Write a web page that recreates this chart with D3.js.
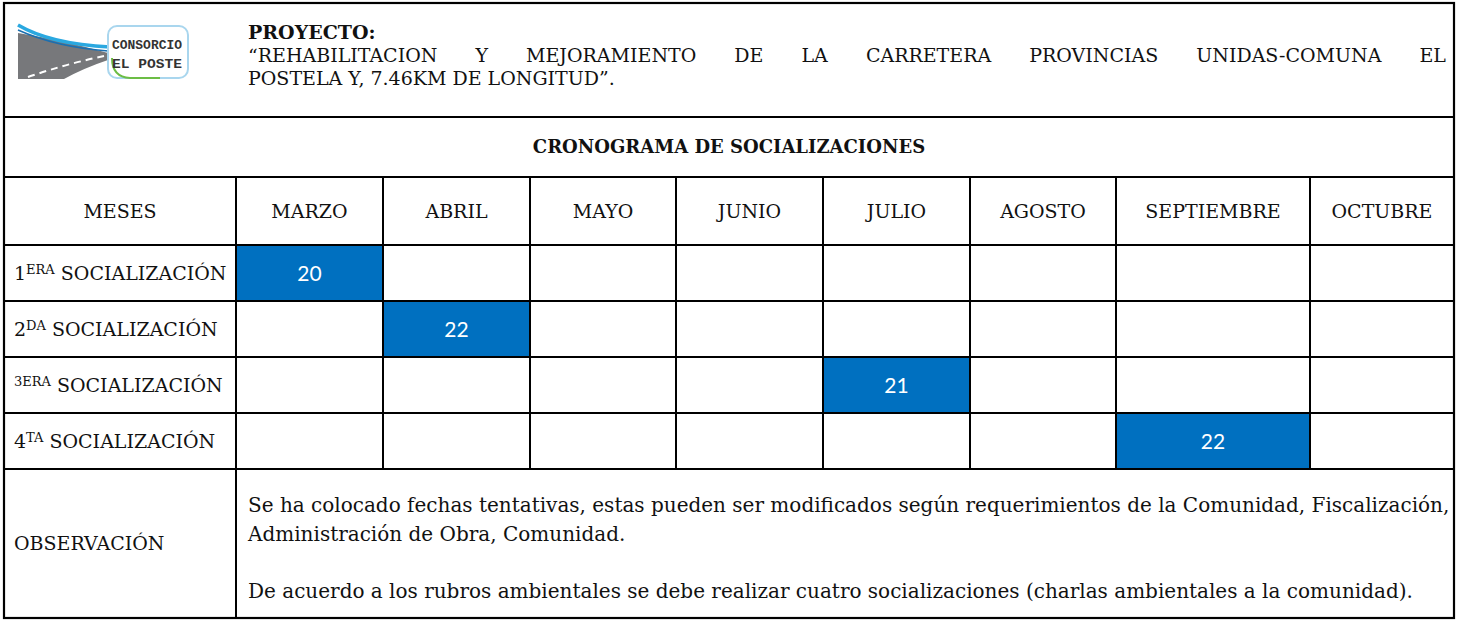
<!DOCTYPE html>
<html>
<head>
<meta charset="utf-8">
<script src="https://cdn.jsdelivr.net/npm/d3@7"></script>
<style>
  body { margin: 0; background: #fff; }
  svg text { font-family: "DejaVu Serif", serif; fill: #111; }
</style>
</head>
<body>
<div id="chart"></div>
<script>
// ---- data ----
const months = ["MARZO", "ABRIL", "MAYO", "JUNIO", "JULIO", "AGOSTO", "SEPTIEMBRE", "OCTUBRE"];
const rowNumbers = ["1", "2", "3", "4"];
const rowSuffixes = ["ERA", "DA", "ERA", "TA"];
const rowNumberSmall = [false, false, true, false];
const socialMonths = ["MARZO", "ABRIL", "JULIO", "SEPTIEMBRE"];
const socialDays = [20, 22, 21, 22];

const projectLabel = "PROYECTO:";
const projectLines = [
  "“REHABILITACION Y MEJORAMIENTO DE LA CARRETERA PROVINCIAS UNIDAS-COMUNA EL",
  "POSTELA Y, 7.46KM DE LONGITUD”."
];
const title = "CRONOGRAMA DE SOCIALIZACIONES";
const firstColLabel = "MESES";
const obsLabel = "OBSERVACIÓN";
const obsLines = [
  "Se ha colocado fechas tentativas, estas pueden ser modificados según requerimientos de la Comunidad, Fiscalización,",
  "Administración de Obra, Comunidad.",
  "",
  "De acuerdo a los rubros ambientales se debe realizar cuatro socializaciones (charlas ambientales a la comunidad)."
];

// ---- layout ----
const width = 1462;
const height = 621;
const left = 4, right = 1454;
const firstColRight = 236;
const monthWidths = [147, 147, 146, 147, 147, 146, 194, 144];
const yHeader = 3, yTitle = 117, yMonths = 177, yRows = 245, yObs = 469, yBottom = 618;
const fontSize = 19;
const blue = "#0070c0";

const svg = d3.select("#chart").append("svg")
  .attr("width", width)
  .attr("height", height)
  .attr("viewBox", [0, 0, width, height]);

// month columns through an ordinal scale
const starts = d3.cumsum([0, ...monthWidths]).map((d) => d + firstColRight);
const x = d3.scaleOrdinal().domain(months).range(starts.slice(0, -1));
const w = d3.scaleOrdinal().domain(months).range(monthWidths);

const y = d3.scaleBand().domain(rowNumbers).range([yRows, yObs]);

// ---- blue cells ----
const cells = socialMonths.map((m, i) => ({ month: m, row: rowNumbers[i], day: socialDays[i] }));

svg.append("g")
  .selectAll("rect")
  .data(cells)
  .join("rect")
  .attr("x", (d) => x(d.month))
  .attr("y", (d) => y(d.row))
  .attr("width", (d) => w(d.month))
  .attr("height", y.bandwidth())
  .attr("fill", blue);

svg.append("g")
  .selectAll("text")
  .data(cells)
  .join("text")
  .attr("x", (d) => x(d.month) + w(d.month) / 2)
  .attr("y", (d) => y(d.row) + y.bandwidth() / 2)
  .attr("dy", "0.36em")
  .attr("text-anchor", "middle")
  .style("font-family", "Lato, sans-serif")
  .style("font-size", "21px")
  .style("fill", "#fff")
  .text((d) => d.day);

// ---- grid lines ----
const grid = svg.append("g").attr("stroke", "#000").attr("fill", "none");

grid.append("rect")
  .attr("x", left)
  .attr("y", yHeader)
  .attr("width", right - left)
  .attr("height", yBottom - yHeader)
  .attr("stroke-width", 2.2);

[yTitle, yMonths, yRows, ...rowNumbers.slice(1).map((r) => y(r)), yObs].forEach((yy) => {
  grid.append("line")
    .attr("x1", left).attr("x2", right)
    .attr("y1", yy).attr("y2", yy)
    .attr("stroke-width", 2);
});

grid.append("line")
  .attr("x1", firstColRight).attr("x2", firstColRight)
  .attr("y1", yMonths).attr("y2", yBottom)
  .attr("stroke-width", 2);

months.slice(1).forEach((m) => {
  grid.append("line")
    .attr("x1", x(m)).attr("x2", x(m))
    .attr("y1", yMonths).attr("y2", yObs)
    .attr("stroke-width", 2);
});

// ---- header ----
const logo = svg.append("g");
logo.append("path")
  .attr("d", "M18,33 Q62,40 108,53 L108,60 Q84,68 64,79 L18,79 Z")
  .attr("fill", "#77787b");
logo.append("path")
  .attr("d", "M28,77 Q66,64 104,56")
  .attr("stroke", "#fff")
  .attr("stroke-width", 2)
  .attr("stroke-dasharray", "7 5")
  .attr("fill", "none");
logo.append("path")
  .attr("d", "M18,25 Q50,44 110,47")
  .attr("stroke", "#2aa8e0")
  .attr("stroke-width", 3.5)
  .attr("fill", "none");
logo.append("path")
  .attr("d", "M18,30 Q56,47 108,51")
  .attr("stroke", "#1b6fb0")
  .attr("stroke-width", 1.5)
  .attr("fill", "none");
logo.append("rect")
  .attr("x", 108).attr("y", 26)
  .attr("width", 80).attr("height", 52)
  .attr("rx", 9)
  .attr("fill", "#fff")
  .attr("stroke", "#a9d6ee")
  .attr("stroke-width", 2);
logo.append("path")
  .attr("d", "M112,58 Q112,77 130,78 L160,78")
  .attr("stroke", "#6cbd45")
  .attr("stroke-width", 2)
  .attr("fill", "none");
logo.selectAll("text")
  .data(["CONSORCIO", "EL POSTE"])
  .join("text")
  .attr("x", 112)
  .attr("y", (d, i) => 49 + i * 19)
  .attr("textLength", 70)
  .attr("lengthAdjust", "spacingAndGlyphs")
  .style("font-family", "'Liberation Mono', monospace")
  .style("font-weight", "bold")
  .style("font-size", "13px")
  .style("fill", "#333")
  .text((d) => d);

const textX = 248;
const textRight = 1446;

svg.append("text")
  .attr("x", textX)
  .attr("y", 39)
  .style("font-size", fontSize + "px")
  .style("font-weight", "bold")
  .text(projectLabel);

// first line is justified: spread the words over the cell width
const words = projectLines[0].split(" ");
const wordNodes = svg.append("g")
  .selectAll("text")
  .data(words)
  .join("text")
  .attr("y", 62)
  .style("font-size", fontSize + "px")
  .text((d) => d);
const widths = wordNodes.nodes().map((n) => n.getComputedTextLength());
const gap = (textRight - textX - d3.sum(widths)) / (words.length - 1);
let cursor = textX;
wordNodes.attr("x", (d, i) => {
  const pos = cursor;
  cursor += widths[i] + gap;
  return pos;
});

svg.append("text")
  .attr("x", textX)
  .attr("y", 85)
  .style("font-size", fontSize + "px")
  .text(projectLines[1]);

svg.append("text")
  .attr("x", (left + right) / 2)
  .attr("y", (yTitle + yMonths) / 2)
  .attr("dy", "0.36em")
  .attr("text-anchor", "middle")
  .style("font-size", "18px")
  .style("font-weight", "bold")
  .text(title);

// ---- month header row ----
const monthY = (yMonths + yRows) / 2;
svg.append("text")
  .attr("x", (left + firstColRight) / 2)
  .attr("y", monthY)
  .attr("dy", "0.36em")
  .attr("text-anchor", "middle")
  .style("font-size", fontSize + "px")
  .text(firstColLabel);

svg.append("g")
  .selectAll("text")
  .data(months)
  .join("text")
  .attr("x", (d) => x(d) + w(d) / 2)
  .attr("y", monthY)
  .attr("dy", "0.36em")
  .attr("text-anchor", "middle")
  .style("font-size", fontSize + "px")
  .text((d) => d);

// ---- row labels ----
const labels = svg.append("g")
  .selectAll("text")
  .data(rowNumbers)
  .join("text")
  .attr("x", 14)
  .attr("y", (d) => y(d) + y.bandwidth() / 2 + 7)
  .style("font-size", fontSize + "px");

labels.append("tspan")
  .style("font-size", (d, i) => (rowNumberSmall[i] ? "13px" : fontSize + "px"))
  .attr("dy", (d, i) => (rowNumberSmall[i] ? -6 : 0))
  .text((d) => d);
labels.append("tspan")
  .style("font-size", "13px")
  .attr("dy", (d, i) => (rowNumberSmall[i] ? 0 : -6))
  .text((d, i) => rowSuffixes[i]);
labels.append("tspan")
  .attr("dy", 6)
  .text(" SOCIALIZACIÓN");

// ---- observation ----
svg.append("text")
  .attr("x", 14)
  .attr("y", (yObs + yBottom) / 2)
  .attr("dy", "0.36em")
  .style("font-size", fontSize + "px")
  .text(obsLabel);

svg.append("g")
  .selectAll("text")
  .data(obsLines)
  .join("text")
  .attr("x", textX)
  .attr("y", (d, i) => 512 + i * 28.5)
  .style("font-size", "20px")
  .text((d) => d);
</script>
</body>
</html>
